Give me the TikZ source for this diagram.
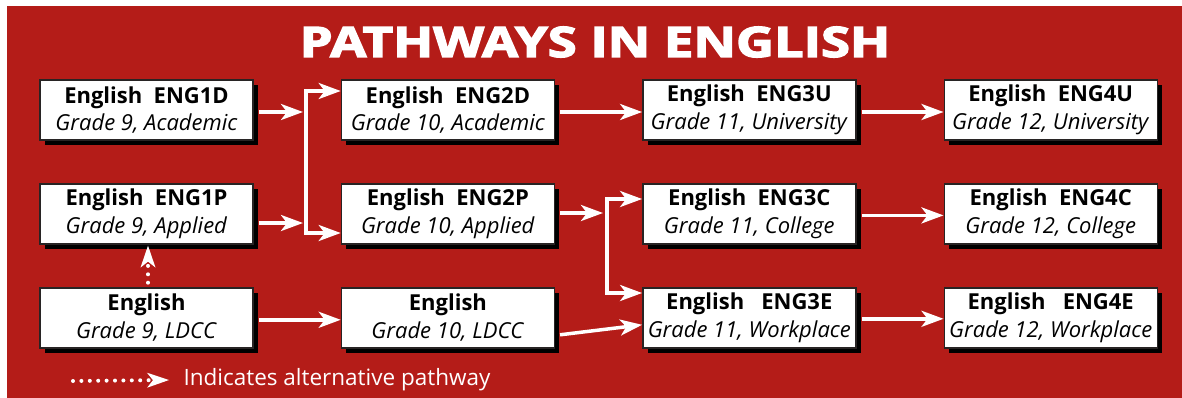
\documentclass[tikz,border=0pt]{standalone}
\usepackage{fontspec}
\setmainfont{Open Sans}
\newfontfamily\titlefont[FakeBold=3]{Open Sans}
\usepackage{tikz}
\usetikzlibrary{positioning, arrows.meta, shadows}

\definecolor{pathred}{RGB}{180,28,24}
\definecolor{boxline}{RGB}{40,36,36}

\tikzset{
	course/.style={draw=boxline, line width=1.4pt, fill=white,
		minimum width=213pt, minimum height=60pt, inner sep=0pt,
		align=center, font=\fontsize{22}{27.5}\selectfont,
		drop shadow={shadow xshift=5pt, shadow yshift=-5pt, fill=black, opacity=1}},
	path/.style={draw=white, line width=3.5pt,
		-{Stealth[length=22pt, width=16pt, inset=6pt]}},
	bar/.style={draw=white, line width=3.5pt},
	alt/.style={draw=white, line width=4pt, dash pattern=on 0pt off 8.4pt, line cap=round,
		-{Stealth[length=22pt, width=15pt, inset=6pt, line cap=butt, line width=0pt]}},
}

\newcommand{\crs}[2]{\textbf{#1}\\\textit{#2}}

\begin{document}
\begin{tikzpicture}[x=1pt, y=-1pt, node distance=42.5pt and 87pt]
	\useasboundingbox (0,0) rectangle (1182,398);
	\fill[pathred] (7,6) rectangle (1182,398);

	\node[text=white, font=\titlefont\bfseries\fontsize{42}{42}\selectfont] (title) at (595,42) {\scalebox{1.25}[1]{PATHWAYS IN ENGLISH}};

	% grade 9
	\node[course] (d1) at (146.5,110) {\crs{English\ \ ENG1D}{Grade 9, Academic}};
	\node[course, below=of d1] (p1) {\crs{English\ \ ENG1P}{Grade 9, Applied}};
	\node[course, below=of p1] (l1) {\crs{English}{Grade 9, LDCC}};
	% grade 10
	\node[course, right=of d1] (d2) {\crs{English\ \ ENG2D}{Grade 10, Academic}};
	\node[course, right=of p1] (p2) {\crs{English\ \ ENG2P}{Grade 10, Applied}};
	\node[course, right=of l1] (l2) {\crs{English}{Grade 10, LDCC}};
	% grade 11
	\node[course, right=of d2] (u3) {\crs{English\ \ ENG3U}{Grade 11, University}};
	\node[course, right=of p2] (c3) {\crs{English\ \ ENG3C}{Grade 11, College}};
	\node[course, right=of l2] (e3) {\crs{English\ \ \ ENG3E}{Grade 11, Workplace}};
	% grade 12
	\node[course, right=of u3] (u4) {\crs{English\ \ ENG4U}{Grade 12, University}};
	\node[course, right=of c3] (c4) {\crs{English\ \ ENG4C}{Grade 12, College}};
	\node[course, right=of e3] (e4) {\crs{English\ \ \ ENG4E}{Grade 12, Workplace}};

	% junctions
	\coordinate (j1) at (303,112);
	\coordinate (j2) at (303,223);
	\coordinate (b1) at (306,91);
	\coordinate (b2) at (306,233);
	\coordinate (j3) at (603,213);
	\coordinate (b3) at (607,199);
	\coordinate (b4) at (607,293);

	\draw[path] ([xshift=5pt]d1.east |- j1) -- (j1);
	\draw[path] ([xshift=5pt]p1.east |- j2) -- (j2);
	\draw[bar] (b1) -- (b2);
	\draw[path] ([xshift=-1.75pt]b1) -- (d2.west |- b1);
	\draw[path] ([xshift=-1.75pt]b2) -- (p2.west |- b2);

	\draw[path] ([xshift=5pt]p2.east |- j3) -- (j3);
	\draw[bar] (b3) -- (b4);
	\draw[path] ([xshift=-1.75pt]b3) -- (c3.west |- b3);
	\draw[path] ([xshift=-1.75pt]b4) -- (e3.west |- b4);
	\draw[path] ([shift={(5pt,-17pt)}]l2.east) -- ([yshift=-7pt]e3.west);

	\draw[path] ([shift={(5pt,-2pt)}]d2.east) -- ([yshift=-2pt]u3.west);
	\draw[path] ([shift={(5pt,-2pt)}]l1.east) -- ([yshift=-2pt]l2.west);
	\draw[path] ([shift={(5pt,-2pt)}]u3.east) -- ([yshift=-2pt]u4.west);
	\draw[path] ([shift={(5pt,-1.5pt)}]c3.east) -- ([yshift=-1.5pt]c4.west);
	\draw[path] ([shift={(5pt,-1pt)}]e3.east) -- ([yshift=-1pt]e4.west);

	\draw[alt] ([shift={(1.5pt,-4pt)}]l1.north) -- ([shift={(1.5pt,-1pt)}]p1.south);

	% legend
	\coordinate (k1) at (73,381);
	\node[anchor=west, text=white, font=\fontsize{22.5}{22.5}\selectfont] (key) at (180,380) {Indicates alternative pathway};
	\draw[alt] (k1) -- ([xshift=-11pt]key.west);
\end{tikzpicture}
\end{document}
